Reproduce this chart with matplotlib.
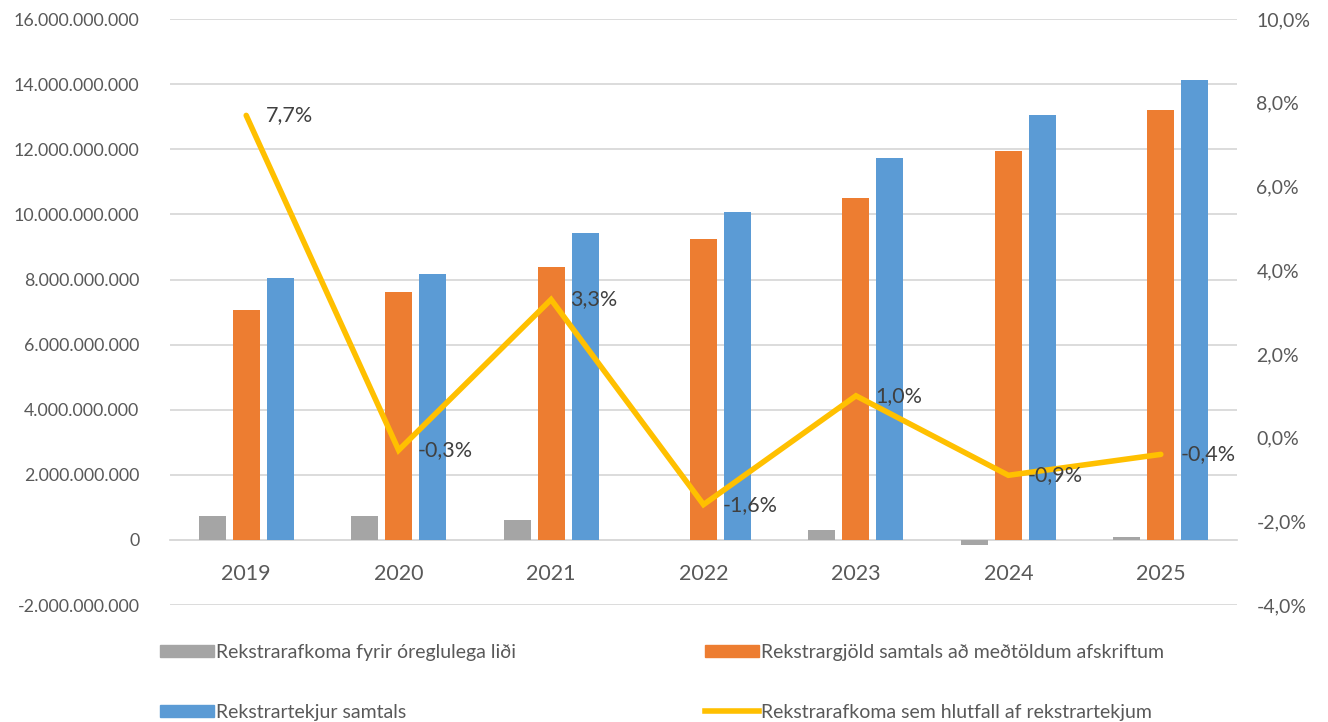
import matplotlib
matplotlib.use("Agg")
import matplotlib.pyplot as plt
import numpy as np
from matplotlib.ticker import FuncFormatter, MultipleLocator
from matplotlib.patches import Patch
from matplotlib.lines import Line2D

plt.rcParams['font.family'] = ['Lato', 'DejaVu Sans']

years = ['2019', '2020', '2021', '2022', '2023', '2024', '2025']
afkoma = [0.74e9, 0.74e9, 0.62e9, 0.0, 0.31e9, -0.15e9, 0.09e9]
gjold = [7.05e9, 7.63e9, 8.37e9, 9.26e9, 10.52e9, 11.94e9, 13.20e9]
tekjur = [8.06e9, 8.18e9, 9.42e9, 10.09e9, 11.72e9, 13.05e9, 14.12e9]
hlutfall = [7.7, -0.3, 3.3, -1.6, 1.0, -0.9, -0.4]

lbl_gray = 'Rekstrarafkoma fyrir óreglulega liði'
lbl_orange = 'Rekstrargjöld samtals að meðtöldum afskriftum'
lbl_blue = 'Rekstrartekjur samtals'
lbl_line = 'Rekstrarafkoma sem hlutfall af rekstrartekjum'

c_gray = '#A5A5A5'
c_orange = '#ED7D31'
c_blue = '#5B9BD5'
c_line = '#FFC000'
c_text = '#595959'
c_grid = '#D9D9D9'

fig = plt.figure(figsize=(13.28, 7.22), dpi=100)
ax = fig.add_axes([0.128, 0.162, 0.8035, 0.8115])
x = np.arange(len(years))
w = 0.177
off = 0.223
ax.bar(x - off, afkoma, w, color=c_gray, zorder=3)
ax.bar(x, gjold, w, color=c_orange, zorder=3)
ax.bar(x + off, tekjur, w, color=c_blue, zorder=3)

ax.set_xlim(-0.5, len(years) - 0.5)
ax.set_ylim(-2e9, 16e9)
ax.yaxis.set_major_locator(MultipleLocator(2e9))
ax.yaxis.set_major_formatter(FuncFormatter(lambda v, p: f"{int(round(v)):,}".replace(',', '.')))
ax.grid(axis='y', color=c_grid, linewidth=1.3, zorder=0)
for s in ['top', 'right', 'left']:
    ax.spines[s].set_visible(False)
ax.spines['bottom'].set_position(('data', 0))
ax.spines['bottom'].set_color(c_grid)
ax.spines['bottom'].set_linewidth(1.3)
ax.spines['bottom'].set_zorder(2)
ax.set_xticks(x)
ax.set_xticklabels(years)
ax.tick_params(axis='x', length=0, pad=17, labelsize=15.5, labelcolor=c_text)
ax.tick_params(axis='y', length=0, pad=22, labelsize=12.8, labelcolor=c_text)

ax2 = ax.twinx()
ax2.set_ylim(-4, 10)
ax2.yaxis.set_major_locator(MultipleLocator(2))
ax2.yaxis.set_major_formatter(FuncFormatter(lambda v, p: f"{v:.1f}%".replace('.', ',')))
for s in ax2.spines.values():
    s.set_visible(False)
ax2.tick_params(axis='y', length=0, pad=14, labelsize=14, labelcolor=c_text)
ax2.plot(x, hlutfall, color=c_line, linewidth=4, solid_capstyle='round', solid_joinstyle='miter', zorder=5)
for xi, v in zip(x, hlutfall):
    ax2.annotate(f"{v:.1f}%".replace('.', ','), (xi, v), xytext=(14, 0), textcoords='offset points',
                 ha='left', va='center', fontsize=15.5, color='#404040', zorder=6)

h1 = [Patch(color=c_gray), Patch(color=c_blue)]
h2 = [Patch(color=c_orange), Line2D([], [], color=c_line, linewidth=4)]
common = dict(frameon=False, fontsize=14, labelcolor=c_text, handlelength=2.8, handleheight=0.6,
              handletextpad=0.1, labelspacing=2.2, borderpad=0, borderaxespad=0, loc='upper left')
fig.legend(h1, [lbl_gray, lbl_blue], bbox_to_anchor=(160 / 1328, 1 - 644 / 722), **common)
fig.legend(h2, [lbl_orange, lbl_line], bbox_to_anchor=(705 / 1328, 1 - 644 / 722), **common)

fig.savefig('out.png', dpi=100, facecolor='white')
